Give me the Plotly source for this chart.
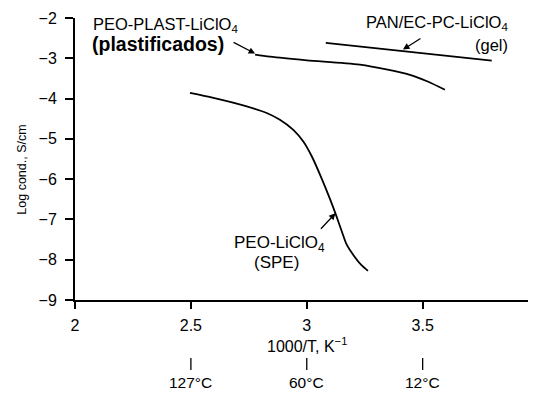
import plotly.graph_objects as go

# Data
plast_x = [2.777, 2.841, 3.0, 3.229, 3.445, 3.519, 3.596]
plast_y = [-2.91, -2.96, -3.05, -3.16, -3.41, -3.57, -3.78]

gel_x = [3.082, 3.798]
gel_y = [-2.62, -3.06]

spe_x = [2.496, 2.597, 2.741, 2.827, 2.884, 2.942, 2.985, 3.022, 3.063,
         3.100, 3.126, 3.152, 3.173, 3.203, 3.235, 3.264]
spe_y = [-3.861, -3.985, -4.194, -4.358, -4.525, -4.776, -5.065, -5.438, -5.968,
         -6.490, -6.888, -7.311, -7.634, -7.900, -8.130, -8.276]

x_ticks = [2, 2.5, 3, 3.5]
x_tick_text = ["2", "2.5", "3", "3.5"]
y_ticks = [-9, -8, -7, -6, -5, -4, -3, -2]
y_tick_text = ["−9", "−8", "−7", "−6", "−5", "−4", "−3", "−2"]
temp_x = [2.5, 3.0, 3.5]
temp_labels = ["127°C", "60°C", "12°C"]

FONT = "Liberation Sans, Arial, sans-serif"
line = dict(color="black", width=1.8, shape="spline", smoothing=0.8)

fig = go.Figure()
for xs, ys in [(plast_x, plast_y), (gel_x, gel_y), (spe_x, spe_y)]:
    fig.add_trace(go.Scatter(x=xs, y=ys, mode="lines", line=line,
                             showlegend=False, hoverinfo="skip"))

ann = []
def txt(x, y, t, size=17, xanchor="center"):
    ann.append(dict(x=x, y=y, xref="x", yref="y", text=t, showarrow=False,
                    xanchor=xanchor, yanchor="middle",
                    font=dict(family=FONT, size=size, color="black")))

txt(2.392, -2.17, "PEO-PLAST-LiClO<sub>4</sub>", 16.5)
txt(2.360, -2.635, "<b>(plastificados)</b>", 19.5)
txt(3.877, -2.12, "PAN/EC-PC-LiClO<sub>4</sub>", 16.5, xanchor="right")
txt(3.877, -2.659, "(gel)", 16.5, xanchor="right")
txt(2.884, -7.61, "PEO-LiClO<sub>4</sub>", 17)
txt(2.869, -8.06, "(SPE)", 17)

def arrow(x, y, ax, ay):
    ann.append(dict(x=x, y=y, xref="x", yref="y", ax=ax, ay=ay, text="",
                    showarrow=True, arrowhead=2, arrowsize=1, arrowwidth=1.3,
                    arrowcolor="black"))

arrow(2.777, -2.883, -23, -12)
arrow(3.415, -2.784, 19, -12)
arrow(3.124, -6.846, -16, 17)

# x tick label for 4 (just outside the visible range)
ann.append(dict(x=4.0, y=-0.0887, xref="x", yref="paper", text="4", showarrow=False,
                xanchor="center", yanchor="middle",
                font=dict(family=FONT, size=16, color="black")))

# axis titles
ann.append(dict(x=3.001, y=-0.160, xref="x", yref="paper",
                text="1000/T, K<sup>−1</sup>", showarrow=False,
                xanchor="center", yanchor="middle",
                font=dict(family=FONT, size=16, color="black")))
ann.append(dict(x=-0.115, y=0.462, xref="paper", yref="paper", text="Log cond., S/cm",
                textangle=-90, showarrow=False, xanchor="center", yanchor="middle",
                font=dict(family=FONT, size=12.5, color="black")))

shapes = []
for tx, tl in zip(temp_x, temp_labels):
    shapes.append(dict(type="line", xref="x", yref="paper", x0=tx, x1=tx,
                       y0=-0.206, y1=-0.248, line=dict(color="black", width=1.3)))
    ann.append(dict(x=tx, y=-0.294, xref="x", yref="paper", text=tl, showarrow=False,
                    xanchor="center", yanchor="middle",
                    font=dict(family=FONT, size=15.5, color="black")))

fig.update_layout(
    width=528, height=386,
    margin=dict(l=67, r=0, t=10, b=94),
    paper_bgcolor="white", plot_bgcolor="white",
    annotations=ann, shapes=shapes,
    xaxis=dict(range=[2, 3.989], tickvals=x_ticks, ticktext=x_tick_text,
               showgrid=False, zeroline=False, showline=True, linecolor="black",
               linewidth=2, ticks="outside", ticklen=7, tickwidth=1.5, tickcolor="black",
               ticklabelstandoff=3,
               tickfont=dict(family=FONT, size=16, color="black")),
    yaxis=dict(range=[-9, -2], tickvals=y_ticks, ticktext=y_tick_text,
               showgrid=False, zeroline=False, showline=True, linecolor="black",
               linewidth=2, ticks="outside", ticklen=8, tickwidth=1.5, tickcolor="black",
               ticklabelstandoff=5,
               tickfont=dict(family=FONT, size=16, color="black")),
)

fig.write_html("out.html")
